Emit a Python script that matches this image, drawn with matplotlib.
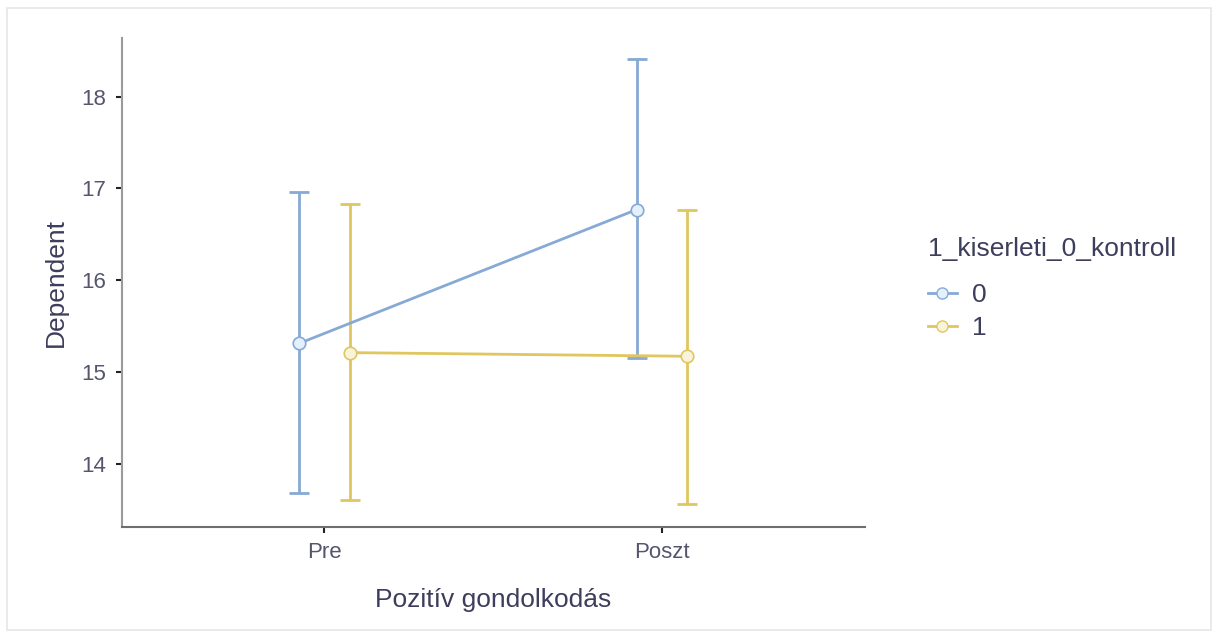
import numpy as np
import matplotlib.pyplot as plt
import matplotlib as mpl
from matplotlib.lines import Line2D
from matplotlib.patches import Rectangle

mpl.rcParams['font.family'] = 'Liberation Sans'

# estimated marginal means with 95% CI, per group and time
times = ['Pre', 'Poszt']
groups = ['0', '1']
means = {'0': [15.31, 16.77], '1': [15.21, 15.17]}
ci_low = {'0': [13.68, 15.15], '1': [13.60, 13.56]}
ci_high = {'0': [16.96, 18.41], '1': [16.83, 16.77]}

colors = {'0': '#86a9d6', '1': '#e0c65e'}
fills = {'0': '#e4f0fb', '1': '#f8f4da'}
text_col = '#3d3d5c'

fig = plt.figure(figsize=(12.18, 6.34), dpi=100)
fig.patches.append(Rectangle((0.006, 0.006), 0.988, 0.982, transform=fig.transFigure,
                             fill=False, edgecolor='#e6e6e6', lw=1.2))
ax = fig.add_axes([0.100, 0.169, 0.610, 0.771])

x = np.arange(len(times))
dodge = {'0': -0.075, '1': 0.075}
for g in groups:
    xs = x + dodge[g]
    m = np.array(means[g])
    lo = m - np.array(ci_low[g])
    hi = np.array(ci_high[g]) - m
    ax.errorbar(xs, m, yerr=[lo, hi], fmt='none', ecolor=colors[g],
                elinewidth=2, capsize=7, capthick=2, zorder=2)
    ax.plot(xs, m, color=colors[g], lw=2, marker='o', ms=9,
            markerfacecolor=fills[g], markeredgecolor=colors[g], mew=1.2, zorder=3)

ax.set_xlim(-0.6, 1.6)
ax.set_ylim(13.31, 18.64)
ax.set_xticks(x)
ax.set_xticklabels(times)
ax.set_yticks([14, 15, 16, 17, 18])

for s in ['top', 'right']:
    ax.spines[s].set_visible(False)
ax.spines['left'].set_color('#9a9a9a')
ax.spines['left'].set_linewidth(1.5)
ax.spines['bottom'].set_color('#6e6e6e')
ax.spines['bottom'].set_linewidth(1.5)
ax.tick_params(axis='both', colors='#222222', labelcolor='#55556e',
               labelsize=16, length=4, width=1.5, pad=7)

ax.set_xlabel('Pozitív gondolkodás', fontsize=19, color=text_col, labelpad=18)
ax.set_ylabel('Dependent', fontsize=19, color=text_col, labelpad=10)

handles = [Line2D([0], [0], color=colors[g], lw=2, marker='o', ms=8,
                  markerfacecolor=fills[g], markeredgecolor=colors[g])
           for g in groups]
leg = fig.legend(handles, groups, title='1_kiserleti_0_kontroll',
                 loc='upper left', bbox_to_anchor=(0.742, 0.664), frameon=False,
                 fontsize=19, title_fontsize=19, handlelength=1.1,
                 handletextpad=0.6, labelspacing=0.35, alignment='left')
leg._legend_box.sep = 16
for t in leg.get_texts():
    t.set_color(text_col)
leg.get_title().set_color(text_col)

plt.savefig('out.png', dpi=100)
